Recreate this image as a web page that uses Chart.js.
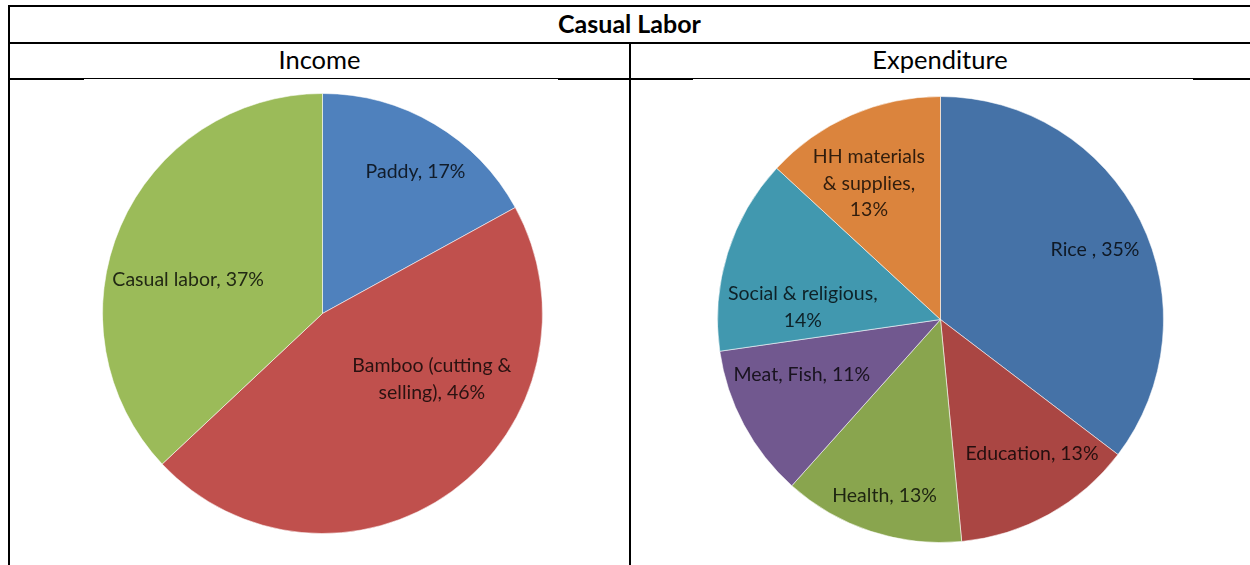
<!DOCTYPE html>
<html>
<head>
<meta charset="utf-8">
<script src="https://cdn.jsdelivr.net/npm/chart.js@4.4.1/dist/chart.umd.min.js"></script>
<style>
    body { margin: 0; background: #fff; width: 1250px; height: 565px; overflow: hidden; position: relative; font-family: Lato, "Liberation Sans", sans-serif; }
    .ln { position: absolute; background: #000; }
    .hd { position: absolute; text-align: center; color: #000; }
    canvas { position: absolute; }
</style>
</head>
<body>
<div class="ln" style="left:8px; top:5px; width:1242px; height:2px;"></div>
<div class="ln" style="left:8px; top:42px; width:1242px; height:2px;"></div>
<div class="ln" style="left:8px; top:78px; width:1242px; height:1px;"></div>
<div class="ln" style="left:8px; top:78px; width:76px; height:2px;"></div>
<div class="ln" style="left:558px; top:78px; width:135px; height:2px;"></div>
<div class="ln" style="left:1193px; top:78px; width:57px; height:2px;"></div>
<div class="ln" style="left:8px; top:5px; width:2px; height:560px;"></div>
<div class="ln" style="left:629px; top:42px; width:2px; height:523px;"></div>

<div class="hd" style="left:9px; width:1241px; top:8px; font-size:25px; font-weight:bold;">Casual Labor</div>
<div class="hd" style="left:9px; width:621px; top:44px; font-size:25.5px;">Income</div>
<div class="hd" style="left:630px; width:620px; top:44px; font-size:25.5px;">Expenditure</div>

<canvas id="income" width="441" height="441" style="left:102px; top:93px;"></canvas>
<canvas id="expenditure" width="447" height="447" style="left:717px; top:96px;"></canvas>

<script>
// income
const incomeLabels = [['Paddy, 17%'], ['Bamboo (cutting &', 'selling), 46%'], ['Casual labor, 37%']];
const incomeValues = [17, 46, 37];
const incomeColors = ['#4F81BD', '#C0504D', '#9BBB59'];
// label placement: [angle shift from slice middle (deg), fraction of radius]
const incomePlace = [[2.7, 0.77], [-23, 0.58], [-9.2, 0.63]];

// expenditure
const expLabels = [['Rice , 35%'], ['Education, 13%'], ['Health, 13%'], ['Meat, Fish, 11%'],
                   ['Social & religious,', '14%'], ['HH materials', '& supplies,', '13%']];
const expValues = [35, 13, 13, 11, 14, 13];
const expColors = ['#4572A7', '#AA4643', '#89A54E', '#71588F', '#4198AF', '#DB843D'];
const expPlace = [[2.1, 0.76], [-5.1, 0.73], [-0.6, 0.83], [6.3, 0.67], [-12.1, 0.62], [-4.1, 0.69]];

function darken(hex, f) {
    const n = parseInt(hex.slice(1), 16);
    const r = Math.round(((n >> 16) & 255) * f);
    const g = Math.round(((n >> 8) & 255) * f);
    const b = Math.round((n & 255) * f);
    return `rgb(${r},${g},${b})`;
}

const sliceLabels = {
    id: 'sliceLabels',
    afterDatasetsDraw(chart, args, opts) {
        const ctx = chart.ctx;
        const meta = chart.getDatasetMeta(0);
        ctx.save();
        ctx.font = '19.5px Lato, "Liberation Sans", sans-serif';
        ctx.textAlign = 'center';
        ctx.textBaseline = 'middle';
        meta.data.forEach((arc, i) => {
            const p = arc.getProps(['x', 'y', 'startAngle', 'endAngle', 'outerRadius'], true);
            const ang = (p.startAngle + p.endAngle) / 2 + opts.place[i][0] * Math.PI / 180;
            const rad = p.outerRadius * opts.place[i][1];
            const cx = p.x + Math.cos(ang) * rad;
            const cy = p.y + Math.sin(ang) * rad;
            const lines = opts.labels[i];
            const lh = 26.5;
            ctx.fillStyle = darken(opts.colors[i], 0.22);
            lines.forEach((t, k) => {
                ctx.fillText(t, cx, cy + (k - (lines.length - 1) / 2) * lh);
            });
        });
        ctx.restore();
    }
};

function makePie(id, labels, values, colors, place) {
    new Chart(document.getElementById(id), {
        type: 'pie',
        data: {
            labels: labels.map(l => l.join(' ')),
            datasets: [{
                data: values,
                backgroundColor: colors,
                borderColor: 'rgba(255,255,255,0.55)',
                borderWidth: 1
            }]
        },
        options: {
            responsive: false,
            animation: false,
            layout: { padding: 0 },
            plugins: {
                legend: { display: false },
                tooltip: { enabled: false },
                sliceLabels: { labels: labels, colors: colors, place: place }
            }
        },
        plugins: [sliceLabels]
    });
}

makePie('income', incomeLabels, incomeValues, incomeColors, incomePlace);
makePie('expenditure', expLabels, expValues, expColors, expPlace);
</script>
</body>
</html>
